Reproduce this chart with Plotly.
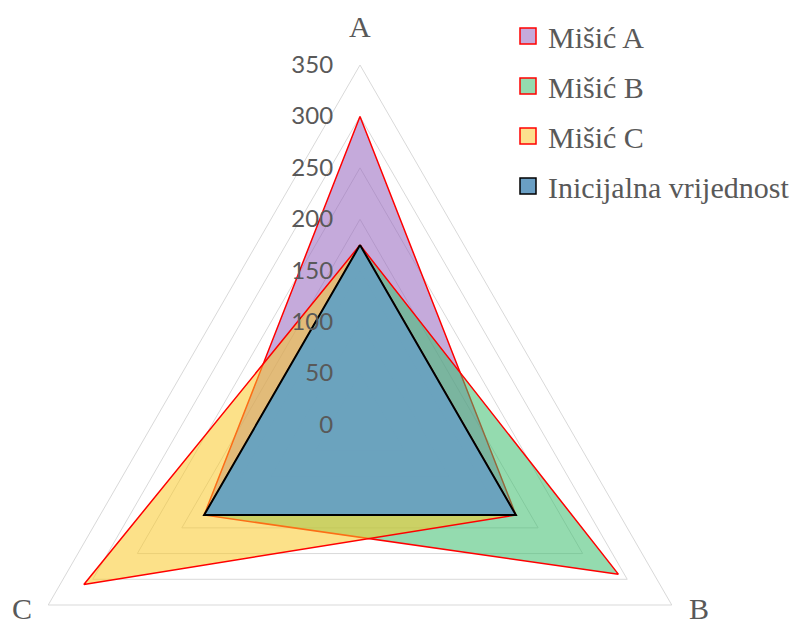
import plotly.graph_objects as go

categories = ["A", "B", "C"]
misic_a = [300, 175, 175]
misic_b = [175, 290, 175]
misic_c = [175, 175, 310]
initial = [175, 175, 175]
series_names = ["Mišić A", "Mišić B", "Mišić C", "Inicijalna vrijednost"]
radial_ticks = [0, 50, 100, 150, 200, 250, 300, 350]

series = [misic_a, misic_b, misic_c, initial]
fills = ["rgba(150,100,190,0.55)", "rgba(60,190,110,0.55)",
         "rgba(250,200,40,0.55)", "rgba(100,160,198,0.93)"]
legend_fills = ["#C5AADB", "#94DBAF", "#FCE08E", "#6A9FC4"]
line_colors = ["#FF0000", "#FF0000", "#FF0000", "#000000"]
line_widths = [1.5, 1.5, 1.5, 2]

SERIF = "Liberation Serif, Times New Roman, serif"
SANS = "Lato, Liberation Sans, sans-serif"
GRAY = "#595959"
W, H = 800, 800

fig = go.Figure()
for vals, name, fc, lc, lw in zip(series, series_names, fills, line_colors, line_widths):
    fig.add_trace(go.Scatterpolar(
        r=vals + vals[:1], theta=categories + categories[:1],
        mode="lines", fill="toself", fillcolor=fc,
        line=dict(color=lc, width=lw), name=name, showlegend=False,
        hoverinfo="skip"))

for i, (name, fc, lc) in enumerate(zip(series_names, legend_fills, line_colors)):
    fig.add_trace(go.Scatterpolar(
        r=[None], theta=[None], mode="markers", name=name,
        legendgroup=f"g{i}",
        marker=dict(symbol="square", size=16, color=fc, line=dict(color=lc, width=1.5))))

# category labels (angular axis labels) placed as annotations
label_pos = {"A": (360, 27), "B": (699, 608), "C": (22, 608)}
annotations = []
for cat in categories:
    px, py = label_pos[cat]
    annotations.append(dict(text=cat, x=px / W, y=1 - py / H, xref="paper", yref="paper",
                            xanchor="center", yanchor="middle", showarrow=False,
                            font=dict(family=SERIF, size=30, color=GRAY)))

fig.update_layout(
    width=W, height=H,
    margin=dict(l=0, r=0, t=0, b=0),
    paper_bgcolor="white",
    font=dict(family=SERIF, color=GRAY),
    showlegend=True,
    legend=dict(x=508 / W, y=1 - 10 / H, xanchor="left", yanchor="top",
                font=dict(family=SERIF, size=30, color=GRAY),
                tracegroupgap=8, bgcolor="rgba(0,0,0,0)"),
    annotations=annotations,
    polar=dict(
        domain=dict(x=[0, 720 / W], y=[1 - 787 / H, 1 - 63 / H]),
        bgcolor="white",
        gridshape="linear",
        radialaxis=dict(range=[0, 350], tickvals=radial_ticks, angle=90,
                        side="counterclockwise", tickangle=90,
                        showline=False, gridcolor="#D9D9D9", gridwidth=1,
                        ticks="outside", ticklen=18, tickcolor="rgba(0,0,0,0)",
                        tickfont=dict(family=SANS, size=24, color=GRAY)),
        angularaxis=dict(rotation=90, direction="clockwise", showgrid=False,
                         showline=True, linecolor="#D9D9D9", linewidth=1,
                         ticks="", showticklabels=False),
    ),
)

fig.write_html("out.html", config={"displayModeBar": False},
               post_script="document.body.style.overflow='hidden';document.body.style.margin='0';")
